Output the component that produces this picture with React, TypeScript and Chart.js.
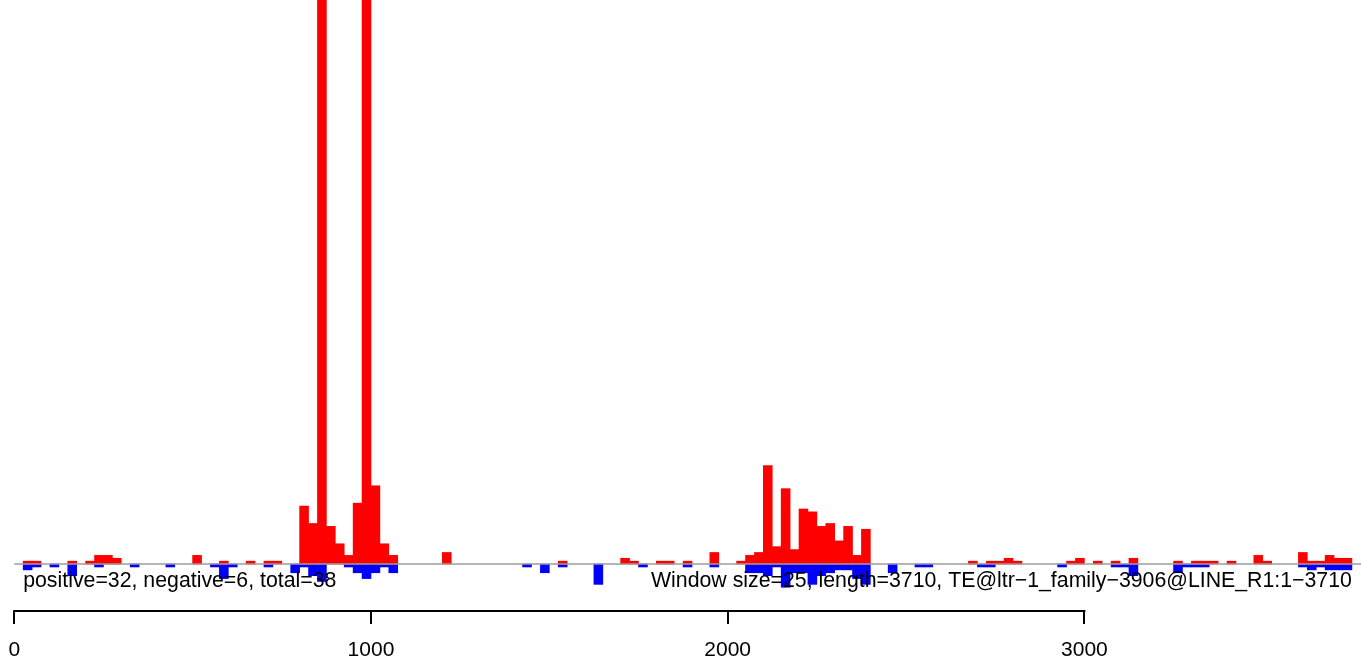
import React, { useEffect, useRef } from "react";
import { Chart, registerables } from "chart.js";

Chart.register(...registerables);

// Window size (bp) of each bar
const WINDOW = 25;

// x-axis tick labels
const X_TICKS = [0, 1000, 2000, 3000];

// Positive-strand windows (window start, count)
const POS_START = [
  25, 50, 150, 200, 225, 250, 275, 500, 575, 650, 700, 725,
  800, 825, 850, 875, 900, 925, 950, 975, 1000, 1025, 1050,
  1200, 1525, 1700, 1725, 1800, 1825, 1875, 1950, 2025,
  2050, 2075, 2100, 2125, 2150, 2175, 2200, 2225, 2250, 2275, 2300, 2325, 2350, 2375,
  2675, 2725, 2750, 2775, 2800, 2950, 2975, 3025, 3075, 3125, 3250,
  3300, 3325, 3350, 3400, 3475, 3500, 3600, 3625, 3650, 3675, 3700, 3725,
];
const POS_COUNT = [
  1, 1, 1, 1, 3, 3, 2, 3, 1, 1, 1, 1,
  20, 14, 260, 13, 7, 3, 21, 240, 27, 7, 3,
  4, 1, 2, 1, 1, 1, 1, 4, 1,
  3, 4, 34, 6, 26, 5, 19, 18, 13, 14, 8, 13, 3, 12,
  1, 1, 1, 2, 1, 1, 2, 1, 1, 2, 1,
  1, 1, 1, 1, 3, 1, 4, 1, 1, 3, 2, 2,
];

// Negative-strand windows (window start, count)
const NEG_START = [
  25, 50, 100, 150, 225, 325, 425, 550, 575, 600, 700,
  775, 800, 825, 850, 925, 950, 975, 1000, 1025, 1050,
  1425, 1475, 1525, 1625, 1750, 1875, 1950,
  2050, 2075, 2100, 2125, 2150, 2175, 2200, 2225, 2250, 2275, 2300, 2325, 2350, 2375,
  2450, 2525, 2550, 2700, 2725, 2925, 3075, 3100, 3125,
  3250, 3275, 3300, 3325, 3600, 3625, 3650, 3675, 3700, 3725,
];
const NEG_COUNT = [
  2, 1, 1, 4, 1, 1, 1, 1, 5, 1, 1,
  3, 1, 4, 6, 1, 3, 5, 3, 1, 3,
  1, 3, 1, 7, 1, 1, 1,
  3, 3, 4, 1, 8, 3, 3, 7, 4, 3, 2, 2, 5, 7,
  3, 1, 1, 1, 1, 1, 1, 1, 4,
  3, 1, 1, 1, 1, 2, 1, 2, 2, 2,
];

const LEFT_NOTE = "positive=32, negative=6, total=38";
const RIGHT_NOTE = "Window size=25, length=3710, TE@ltr\u22121_family\u22123906@LINE_R1:1\u22123710";
const SEQ_END = 3750;

// axis ranges
const X_MIN = -40;
const X_MAX = 3775.5;
const Y_MIN = -16.2;
const Y_MAX = 194.5;

const FONT_FAMILY = '"Liberation Sans", Arial, Helvetica, sans-serif';

const annotations = {
  id: "annotations",
  afterDatasetsDraw(chart: any) {
    const { ctx, chartArea } = chart;
    const x = chart.scales.x;
    const y = chart.scales.y;
    ctx.save();
    // zero line
    const y0 = y.getPixelForValue(0);
    ctx.strokeStyle = "#9c9c9c";
    ctx.lineWidth = 1.5;
    ctx.beginPath();
    ctx.moveTo(x.getPixelForValue(0), y0);
    ctx.lineTo(chartArea.right, y0);
    ctx.stroke();
    // notes
    ctx.fillStyle = "#000";
    ctx.font = "21.3px " + FONT_FAMILY;
    ctx.textBaseline = "alphabetic";
    const ty = y.getPixelForValue(-8);
    ctx.textAlign = "left";
    ctx.fillText(LEFT_NOTE, x.getPixelForValue(WINDOW), ty);
    ctx.textAlign = "right";
    ctx.fillText(RIGHT_NOTE, x.getPixelForValue(SEQ_END), ty);
    // axis line (from first to last tick, like R)
    ctx.strokeStyle = "#000";
    ctx.lineWidth = 2;
    ctx.lineCap = "square";
    ctx.beginPath();
    ctx.moveTo(x.getPixelForValue(X_TICKS[0]), chartArea.bottom);
    ctx.lineTo(x.getPixelForValue(X_TICKS[X_TICKS.length - 1]), chartArea.bottom);
    ctx.stroke();
    ctx.restore();
  },
};

export default function App() {
  const canvasRef = useRef<HTMLCanvasElement | null>(null);

  useEffect(() => {
    if (!canvasRef.current) return;
    Chart.defaults.font.family = FONT_FAMILY;
    const chart = new Chart(canvasRef.current, {
      type: "bar",
      data: {
        datasets: [
          {
            label: "positive",
            data: POS_START.map((s, i) => ({ x: s + WINDOW / 2, y: POS_COUNT[i] })),
            backgroundColor: "#ff0000",
            borderWidth: 0,
            grouped: false,
            barPercentage: 1,
            categoryPercentage: 1,
          } as any,
          {
            label: "negative",
            data: NEG_START.map((s, i) => ({ x: s + WINDOW / 2, y: -NEG_COUNT[i] })),
            backgroundColor: "#0000ff",
            borderWidth: 0,
            grouped: false,
            barPercentage: 1,
            categoryPercentage: 1,
          } as any,
        ],
      },
      options: {
        animation: false,
        responsive: false,
        maintainAspectRatio: false,
        layout: { autoPadding: false, padding: { left: 0, right: 0, top: 0, bottom: -16.5 } },
        plugins: {
          legend: { display: false },
          title: { display: false },
          tooltip: { enabled: false },
        },
        scales: {
          x: {
            type: "linear",
            min: X_MIN,
            max: X_MAX,
            offset: false,
            afterBuildTicks: (axis: any) => {
              axis.ticks = X_TICKS.map((v) => ({ value: v }));
            },
            ticks: {
              autoSkip: false,
              maxRotation: 0,
              minRotation: 0,
              padding: 0,
              color: "#000",
              font: { size: 21, lineHeight: 2.45, family: FONT_FAMILY },
              callback: (v: any) => String(v),
            },
            grid: {
              display: true,
              offset: false,
              drawOnChartArea: false,
              drawTicks: true,
              tickLength: 13,
              color: "#000",
              lineWidth: 2,
            },
            border: { display: false },
          },
          y: {
            type: "linear",
            display: false,
            min: Y_MIN,
            max: Y_MAX,
          },
        },
      },
      plugins: [annotations],
    } as any);
    return () => chart.destroy();
  }, []);

  return (
    <div style={{ position: "fixed", left: 0, top: 0, width: 1361, height: 659, background: "#fff", overflow: "hidden" }}>
      <canvas ref={canvasRef} width={1361} height={659} style={{ display: "block" }} />
    </div>
  );
}
